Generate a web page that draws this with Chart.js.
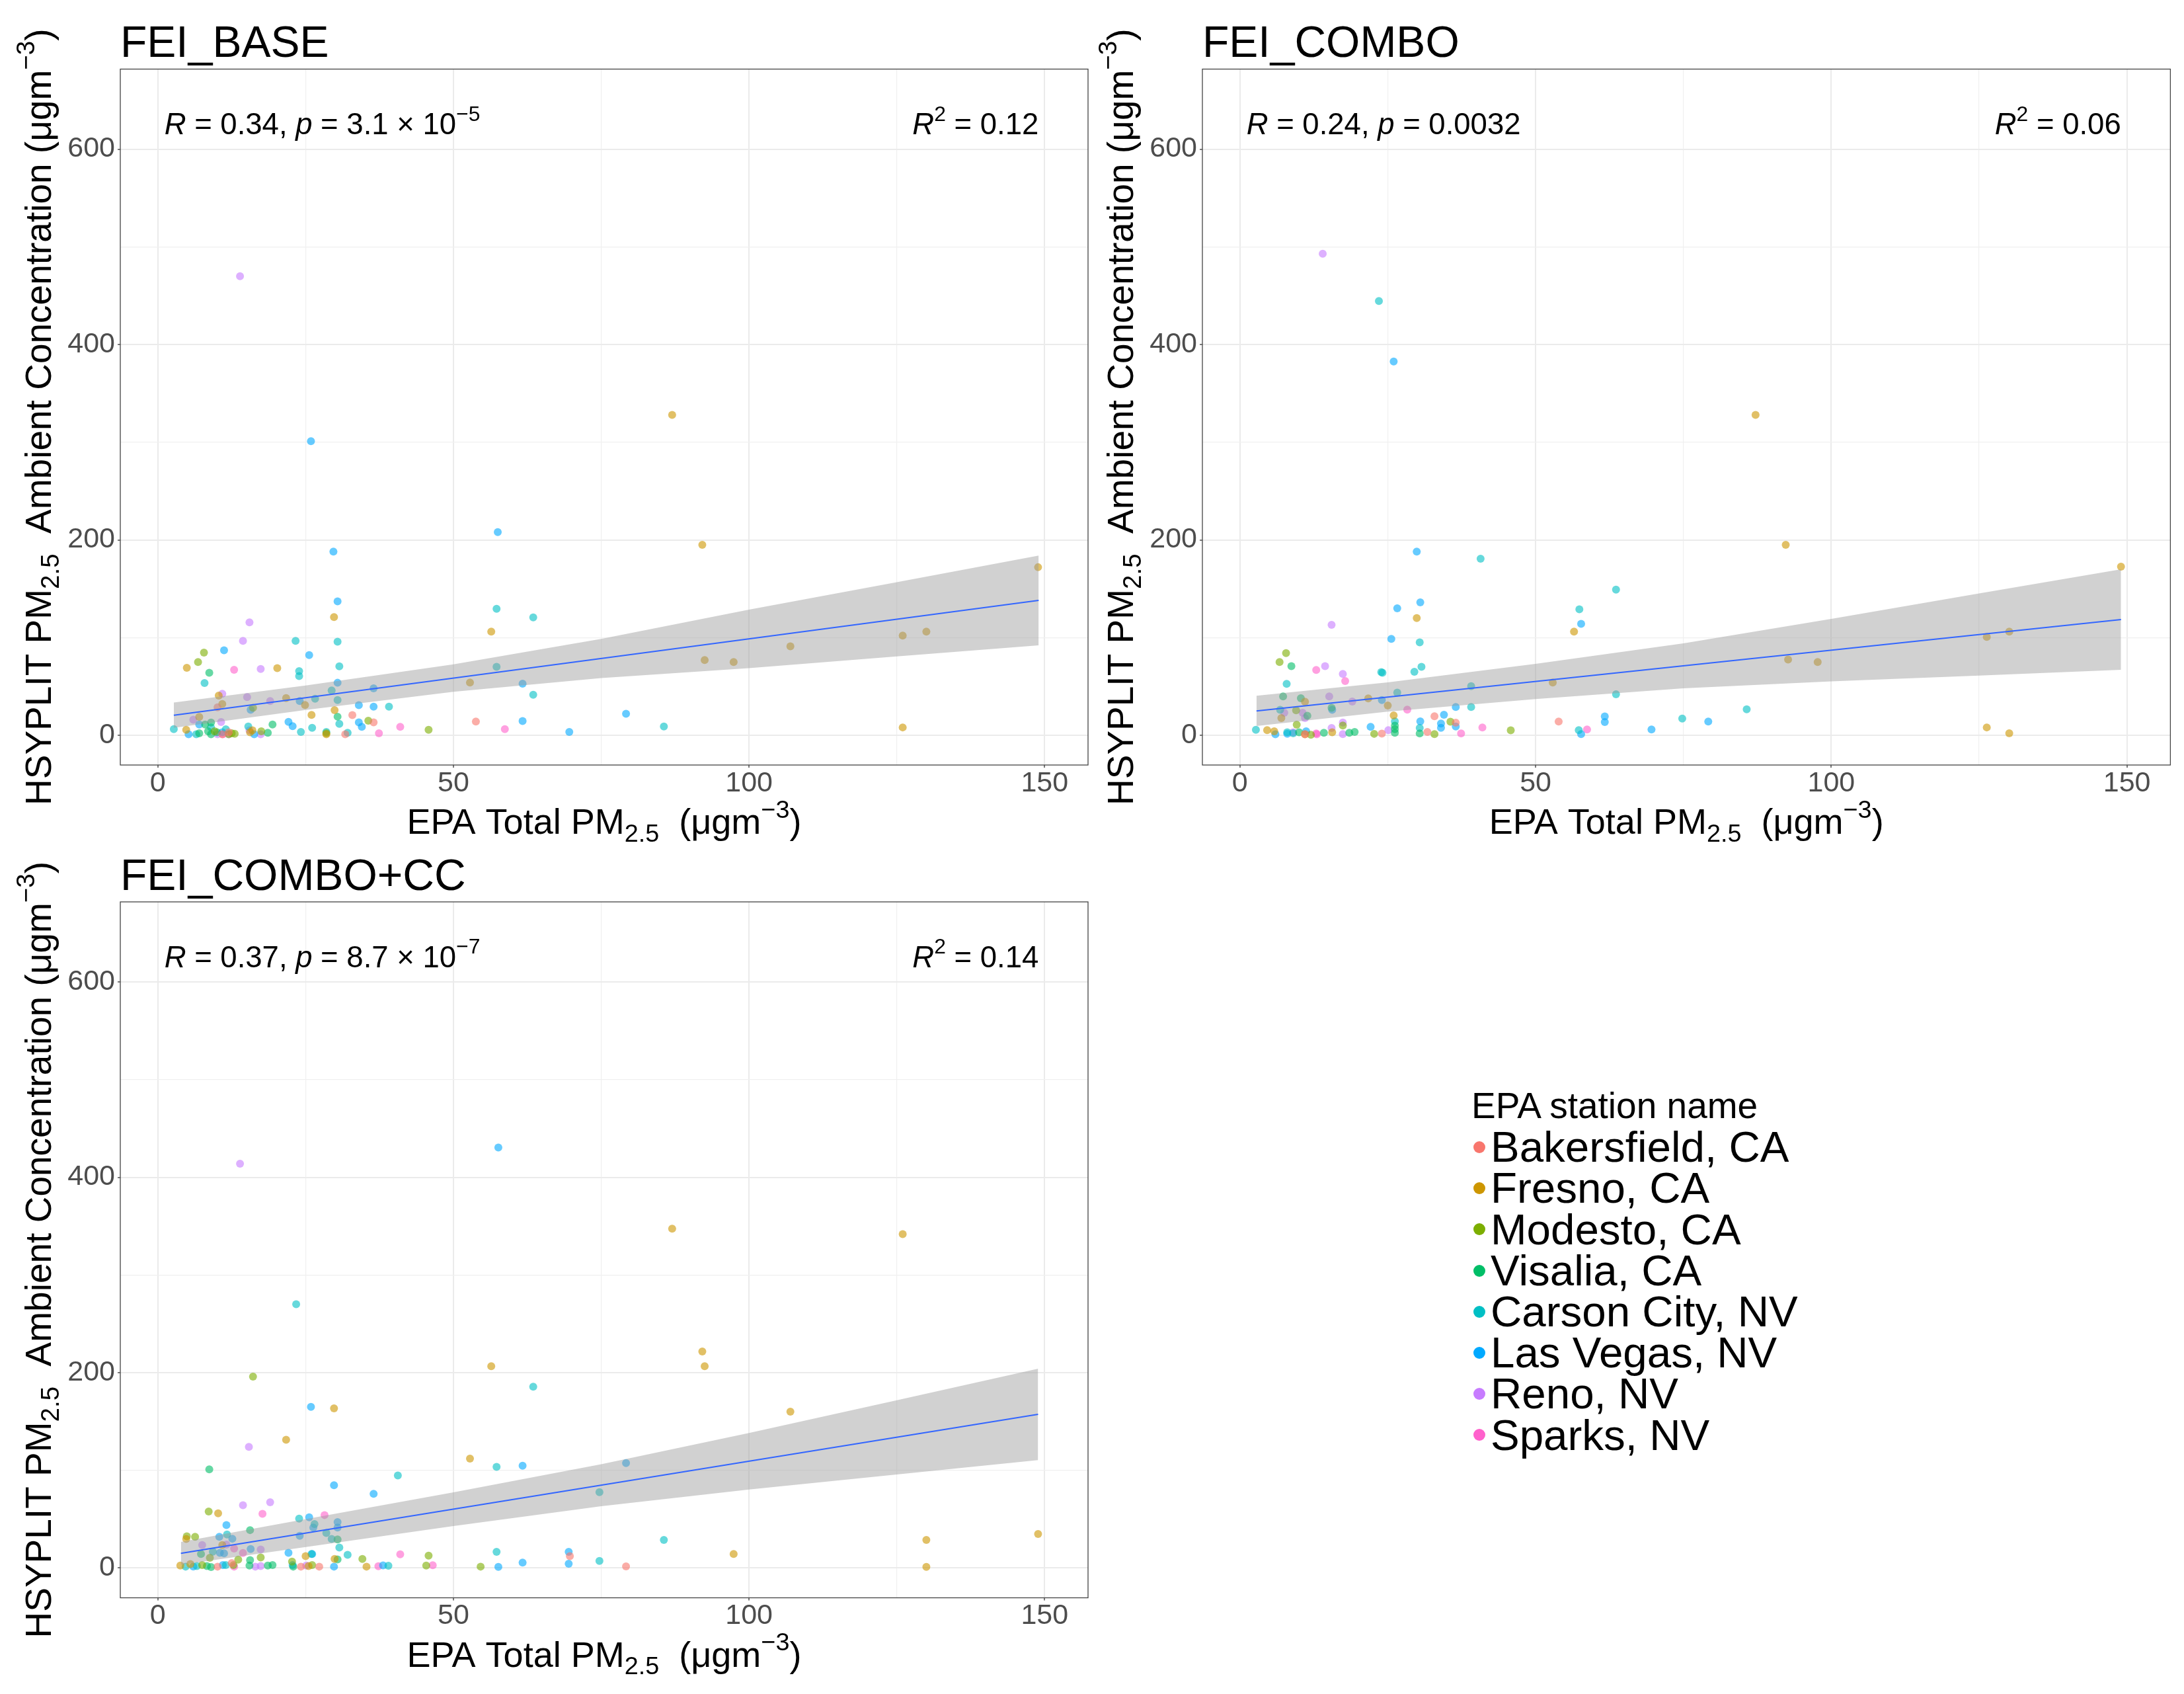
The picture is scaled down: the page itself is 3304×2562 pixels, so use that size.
<!DOCTYPE html>
<html>
<head>
<meta charset="utf-8">
<script src="https://cdn.jsdelivr.net/npm/chart.js@4.4.1/dist/chart.umd.min.js"></script>
<style>
  body { margin: 0; background: #fff; }
  #page { position: relative; width: 3304px; height: 2562px; background: #fff; overflow: hidden;
          font-family: 'Liberation Sans', Arial, Helvetica, sans-serif; }
  canvas { position: absolute; }
  .lg { position: absolute; line-height: 1; white-space: nowrap; color: #000; }
  .dot { position: absolute; width: 18px; height: 18px; border-radius: 50%; }
</style>
</head>
<body>
<div id="page">
  <canvas id="c1" width="1700" height="1290" style="left:0;top:0"></canvas>
  <canvas id="c2" width="1654" height="1290" style="left:1650px;top:0"></canvas>
  <canvas id="c3" width="1700" height="1272" style="left:0;top:1290px"></canvas>
  <div id="legend"></div>
</div>
<script>
const stations = ['Bakersfield, CA', 'Fresno, CA', 'Modesto, CA', 'Visalia, CA',
                  'Carson City, NV', 'Las Vegas, NV', 'Reno, NV', 'Sparks, NV'];
const stationColors = ['#F8766D', '#CD9600', '#7CAE00', '#00BE67', '#00BFC4', '#00A9FF', '#C77CFF', '#FF61CC'];
const xTicks = [0, 50, 100, 150];
const xMinor = [25, 75, 125];
const yTicks = [0, 200, 400, 600];
const yMinor = [100, 300, 500];

// FEI_BASE  [EPA total PM2.5, HSYPLIT PM2.5]
const baseBakersfield = [[53.8,14],[32.9,20.6],[36.5,13.1],[31.7,1],[10.1,28.6],[10.9,1],[12,3]];
const baseFresno = [[87,328],[92.1,195],[148.9,172],[29.8,121],[56.4,106],[130,106],[126,102],[107,91],[92.5,77],
  [97.4,75],[126,8],[52.8,54],[4.9,69],[20.2,68.6],[21.7,38],[24.9,31],[10.3,40.6],[10.9,32],[7,18.7],[4.8,5.6],
  [26,20.8],[29.9,25.7],[28.5,1],[15.6,3],[16,5]];
const baseModesto = [[6.8,75],[7.8,84.6],[45.8,5.6],[16.1,28],[35.6,14.9],[9.6,4],[12.5,2],[17.5,4],[12,1],[13,1.5],[28.5,2]];
const baseVisalia = [[8.7,64],[8,11],[9,13],[18.6,2.5],[19.4,11],[30.4,19],[7,2],[9,1],[8.5,4],[10,3]];
const baseCarson = [[2.7,6.3],[7.9,53.5],[23.3,96.6],[23.9,65.7],[23.9,60.5],[30.4,95.7],[30.7,70.6],[29.4,45.8],
  [30.4,36],[26.6,37.4],[57.3,129.5],[63.5,120.7],[57.3,70],[63.5,41.5],[39.1,29.3],[24.2,3.4],[26.1,7.5],
  [30.7,11.7],[32.1,2.5],[85.6,9],[15.3,9],[11.5,6],[9,8],[6.5,1],[28.5,3.4]];
const baseLasVegas = [[25.9,301],[57.5,208],[29.7,188],[30.4,137],[11.2,87],[25.6,82],[30.4,53.7],[36.5,48],[24,35],
  [15.7,26],[7,11],[5.2,1],[10.9,3],[16.3,1],[22.1,13.7],[22.8,9.2],[34,13.1],[34.5,8.6],[34,30.7],[36.5,29.3],
  [61.7,14.5],[61.7,52.7],[69.6,3.4],[79.2,22]];
const baseReno = [[13.9,470],[15.5,115.6],[14.4,96.6],[17.4,67.8],[19,35],[15.1,39],[10.9,42.4],[6,15.8],[10.7,13.5],
  [10.1,1],[17.4,1],[15.5,5],[12,1]];
const baseSparks = [[12.9,67],[41,8.6],[58.7,6.3],[37.4,2],[11,1]];

// FEI_COMBO
const comboBakersfield = [[53.9,14],[32.9,19.4],[36.5,12.9],[24,1.6],[31.7,3.4],[11,1]];
const comboFresno = [[87.2,328],[92.3,195],[149,172.6],[29.9,120],[56.5,106],[126.3,100.7],[130.1,106],[92.7,77.5],
  [97.7,75],[126.3,8],[130.1,2],[52.9,54],[11,34.3],[21.7,37.7],[25,30.5],[7,17.6],[26,20.3],[4.6,5.2],[5.8,4],
  [15.6,3],[11,1]];
const comboModesto = [[7.8,84],[6.7,75],[9.5,25.5],[9.6,10.8],[35.6,13.8],[45.8,5],[22.7,1.4],[32.9,1.1],[17.4,10],[12,0.5]];
const comboVisalia = [[8.7,70.7],[7.3,39.7],[10.3,37.9],[15.5,28],[11.4,20],[14.2,2.5],[18.5,2.5],[19.4,3.4],
  [26.2,9.7],[26.2,6.3],[26.2,2.5],[30.4,1.8],[10,3]];
const comboCarson = [[23.5,444.6],[40.7,180.7],[63.6,149],[57.4,129],[30.4,95],[23.9,64.6],[24.1,64],[29.5,65],
  [30.7,70],[7.9,52.6],[26.6,43.6],[39.1,50.3],[63.6,42],[39.1,28.9],[6.8,26],[26.2,14.2],[30.4,7.4],[57.3,5.2],
  [74.8,17],[85.7,26.6],[2.7,5.6],[8,3],[9,2]];
const comboLasVegas = [[26,382.6],[29.9,188],[30.5,136],[26.6,130],[57.7,114],[25.6,98.6],[24,36],[15.6,26],
  [36.5,28.9],[34.5,21],[30.5,14.2],[34,12],[34,7.5],[36.5,9],[22.1,8.6],[57.7,1.1],[61.7,19.2],[61.7,13.5],
  [69.6,5.9],[79.2,14],[11.2,4],[6,1],[8,1.5]];
const comboReno = [[14,493],[15.5,113],[14.4,70.7],[17.4,62.8],[15.1,39.7],[19,34.5],[7.5,23],[10.6,23],[11,17.6],
  [15.5,7.4],[17.4,13],[17.4,1.1],[25.1,5.2],[9,3]];
const comboSparks = [[12.9,66.8],[17.8,55.5],[28.3,26.2],[41,7.9],[58.7,5.9],[37.4,1.8],[12.9,1.8],[13,1]];

// FEI_COMBO+CC
const ccBakersfield = [[69.7,12.2],[79.2,1.7],[27.3,1.4],[24.2,1.4],[10.1,1.4],[12.5,5]];
const ccFresno = [[87,347.4],[126,341.8],[92.1,221.6],[92.5,206.6],[56.4,206.6],[29.8,163.4],[107,160],[21.7,131.3],
  [52.8,112],[130,28.8],[148.9,34.9],[97.4,14.4],[130,1.1],[10.2,56],[4.8,29.8],[10.9,23.5],[25,12.2],[29.9,9.3],
  [35.3,1.4],[3.8,2.5],[5.5,4],[25.5,2]];
const ccModesto = [[16.1,196],[8.6,57.8],[4.9,32.5],[6.3,32],[8.8,10.4],[13.6,8.6],[17.4,10.8],[22.7,6.5],[34.6,9.3],
  [45.8,12.6],[45.4,2.5],[54.6,1.4],[7.5,3],[12.8,3],[26.1,3]];
const ccVisalia = [[8.7,101],[15.6,38.8],[7.3,14.4],[15.6,8.1],[30.4,8.8],[30.4,29.3],[15.5,2.5],[18.6,2.5],[19.4,3],
  [22.9,1.4],[8.3,2],[9,1]];
const ccCarson = [[23.4,270],[63.5,185.6],[57.3,103.6],[40.6,94.7],[74.7,77.6],[85.6,28.8],[57.3,16.6],[74.7,7.2],
  [23.9,50.6],[26.5,45],[28.5,35.9],[29.4,29.8],[30.7,21],[32.1,13.5],[11.7,34.3],[9.3,16.7],[39,2.3],[4.7,1.4],
  [6.6,2],[26,14.4],[11.5,3]];
const ccLasVegas = [[57.6,430.5],[25.9,165],[61.7,104.7],[79.2,107.5],[36.5,75.9],[29.8,84.7],[25.6,51.9],[11.6,44],
  [26.3,41.5],[30.4,47],[30.4,41.5],[10.4,32],[12.6,30],[24,33],[15.7,19.4],[10.5,15.5],[11.2,15],[22.1,15.6],
  [26.1,14.4],[69.5,16.6],[69.5,4.4],[61.7,5.5],[57.6,1.1],[29.8,1.4],[38.1,2.7],[22.8,3],[6,1.5],[11,3]];
const ccReno = [[13.9,413.9],[15.4,124],[19,67.3],[14.4,64.3],[7.5,23.5],[11.6,24],[17.4,19],[16.5,1.4],[17.4,2],[25.1,2.5]];
const ccSparks = [[17.7,55.5],[28.2,54.2],[12.9,20],[14.4,15.3],[41,14],[37.3,1.8],[46.5,2.9],[12.9,1.4]];

// linear fit and its 95% band, read at a few x values
const baseBandX = [2.7, 25, 50, 75, 100, 125, 149];
const baseBandLo = [7.5, 25.9, 44.5, 58.6, 68.6, 80.7, 92];
const baseBandHi = [33.5, 50.9, 72.5, 98.6, 128.6, 156.7, 184];
const baseFitLine = [[2.7, 20.5], [149, 138]];
const comboBandX = [2.8, 25, 50, 75, 100, 125, 149];
const comboBandLo = [9.4, 24.1, 37.1, 48.1, 55.1, 61.1, 66.9];
const comboBandHi = [40.4, 54.1, 73.1, 94.1, 119.1, 145.1, 169.9];
const comboFitLine = [[2.8, 24.9], [149, 118.4]];
const ccBandX = [3.9, 25, 50, 75, 100, 125, 148.9];
const ccBandLo = [3.3, 21.4, 42.9, 63.2, 80.3, 95.8, 110.5];
const ccBandHi = [26.7, 50, 77.5, 106.2, 138.3, 171.8, 204.1];
const ccFitLine = [[3.9, 15], [148.9, 157.3]];

const FONT = "'Liberation Sans', Arial, Helvetica, sans-serif";

function rgba(hex, a) {
  const n = parseInt(hex.slice(1), 16);
  return 'rgba(' + (n >> 16) + ',' + ((n >> 8) & 255) + ',' + (n & 255) + ',' + a + ')';
}

// text runs: [text, style]  style '' | 'i' | 'sup' | 'sub'
function runFont(style, size) {
  const s = (style === 'sup' || style === 'sub') ? size * 0.7 : size;
  return (style === 'i' ? 'italic ' : '') + s + 'px ' + FONT;
}
function richWidth(ctx, runs, size) {
  let w = 0;
  runs.forEach(r => { ctx.font = runFont(r[1], size); w += ctx.measureText(r[0]).width; });
  return w;
}
function drawRich(ctx, runs, x, y, size, align) {
  const w = richWidth(ctx, runs, size);
  let cx = align === 'center' ? x - w / 2 : align === 'right' ? x - w : x;
  ctx.textBaseline = 'alphabetic';
  ctx.textAlign = 'left';
  runs.forEach(r => {
    ctx.font = runFont(r[1], size);
    let dy = 0;
    if (r[1] === 'sup') dy = -size * 0.45;
    if (r[1] === 'sub') dy = size * 0.22;
    ctx.fillText(r[0], cx, y + dy);
    cx += ctx.measureText(r[0]).width;
  });
}

const xTitle = [['EPA Total PM', ''], ['2.5', 'sub'], ['  (\u03bcgm', ''], ['\u22123', 'sup'], [')', '']];
const yTitle = [['HSYPLIT PM', ''], ['2.5', 'sub'], ['  Ambient Concentration (\u03bcgm', ''], ['\u22123', 'sup'], [')', '']];

function makePanel(canvasId, title, series, bandX, bandLo, bandHi, fitLine, corText, r2Text, box) {
  const datasets = [];
  datasets.push({
    type: 'line', data: fitLine.map(p => ({ x: p[0], y: p[1] })),
    borderColor: '#3366FF', borderWidth: 2, pointRadius: 0, fill: false
  });
  datasets.push({
    type: 'line', data: bandX.map((x, i) => ({ x: x, y: bandHi[i] })),
    borderColor: 'rgba(0,0,0,0)', borderWidth: 0, pointRadius: 0,
    fill: '+1', backgroundColor: 'rgba(153,153,153,0.45)'
  });
  datasets.push({
    type: 'line', data: bandX.map((x, i) => ({ x: x, y: bandLo[i] })),
    borderColor: 'rgba(0,0,0,0)', borderWidth: 0, pointRadius: 0, fill: false
  });
  series.forEach((pts, k) => {
    datasets.push({
      type: 'scatter', label: stations[k],
      data: pts.map(p => ({ x: p[0], y: p[1] })),
      backgroundColor: rgba(stationColors[k], 0.6), borderWidth: 0, pointRadius: 6
    });
  });

  const isMajorX = v => xTicks.includes(v);
  const isMajorY = v => yTicks.includes(v);

  const decor = {
    id: 'decor',
    afterDraw(chart) {
      const ctx = chart.ctx, a = chart.chartArea;
      const sx = chart.scales.x, sy = chart.scales.y;
      ctx.save();
      ctx.strokeStyle = '#444444';
      ctx.lineWidth = 1.3;
      ctx.strokeRect(a.left, a.top, a.right - a.left, a.bottom - a.top);
      ctx.fillStyle = '#000';
      // panel title
      ctx.font = '66px ' + FONT;
      ctx.textAlign = 'left';
      ctx.textBaseline = 'alphabetic';
      ctx.fillText(title, a.left, a.top - 18.5);
      // axis titles
      drawRich(ctx, xTitle, (a.left + a.right) / 2, a.bottom + 104, 54, 'center');
      ctx.save();
      ctx.translate(a.left - 105, (a.top + a.bottom) / 2);
      ctx.rotate(-Math.PI / 2);
      drawRich(ctx, yTitle, 0, 0, 55, 'center');
      ctx.restore();
      // correlation labels
      const ty = sy.getPixelForValue(615);
      drawRich(ctx, corText, sx.getPixelForValue(1.1), ty, 45.5, 'left');
      drawRich(ctx, r2Text, sx.getPixelForValue(149), ty, 45.5, 'right');
      ctx.restore();
    }
  };

  return new Chart(document.getElementById(canvasId), {
    type: 'scatter',
    data: { datasets: datasets },
    plugins: [decor],
    options: {
      responsive: false,
      devicePixelRatio: 1,
      animation: false,
      layout: { padding: { left: 0, top: box.top, right: box.right, bottom: 0 } },
      plugins: { legend: { display: false }, tooltip: { enabled: false }, title: { display: false } },
      scales: {
        x: {
          type: 'linear', min: -6.35, max: 157.35,
          afterBuildTicks: s => { s.ticks = xTicks.concat(xMinor).sort((p, q) => p - q).map(v => ({ value: v })); },
          afterFit: s => { s.height = box.xh; },
          ticks: {
            autoSkip: false, maxRotation: 0, padding: -2, color: '#4D4D4D',
            font: { size: 43, family: FONT },
            callback: v => isMajorX(v) ? String(v) : ''
          },
          grid: {
            color: c => isMajorX(c.tick.value) ? '#EBEBEB' : '#F0F0F0',
            lineWidth: c => isMajorX(c.tick.value) ? 2 : 1.2,
            tickLength: 4,
            tickColor: c => isMajorX(c.tick.value) ? '#333333' : 'rgba(0,0,0,0)',
            tickWidth: 1.3
          },
          border: { display: false }
        },
        y: {
          type: 'linear', min: -30.5, max: 682,
          afterBuildTicks: s => { s.ticks = yTicks.concat(yMinor).sort((p, q) => p - q).map(v => ({ value: v })); },
          afterFit: s => { s.width = box.yw; },
          ticks: {
            autoSkip: false, padding: 4, color: '#4D4D4D',
            font: { size: 43, family: FONT },
            callback: v => isMajorY(v) ? String(v) : ''
          },
          grid: {
            color: c => isMajorY(c.tick.value) ? '#EBEBEB' : '#F0F0F0',
            lineWidth: c => isMajorY(c.tick.value) ? 2 : 1.2,
            tickLength: 4,
            tickColor: c => isMajorY(c.tick.value) ? '#333333' : 'rgba(0,0,0,0)',
            tickWidth: 1.3
          },
          border: { display: false }
        }
      }
    }
  });
}

makePanel('c1', 'FEI_BASE',
  [baseBakersfield, baseFresno, baseModesto, baseVisalia, baseCarson, baseLasVegas, baseReno, baseSparks],
  baseBandX, baseBandLo, baseBandHi, baseFitLine,
  [['R', 'i'], [' = 0.34, ', ''], ['p', 'i'], [' = 3.1 \u00d7 10', ''], ['\u22125', 'sup']],
  [['R', 'i'], ['2', 'sup'], [' = 0.12', '']],
  { top: 104.5, right: 54, yw: 182, xh: 133 });

makePanel('c2', 'FEI_COMBO',
  [comboBakersfield, comboFresno, comboModesto, comboVisalia, comboCarson, comboLasVegas, comboReno, comboSparks],
  comboBandX, comboBandLo, comboBandHi, comboFitLine,
  [['R', 'i'], [' = 0.24, ', ''], ['p', 'i'], [' = 0.0032', '']],
  [['R', 'i'], ['2', 'sup'], [' = 0.06', '']],
  { top: 104.5, right: 20.6, yw: 169, xh: 133 });

makePanel('c3', 'FEI_COMBO+CC',
  [ccBakersfield, ccFresno, ccModesto, ccVisalia, ccCarson, ccLasVegas, ccReno, ccSparks],
  ccBandX, ccBandLo, ccBandHi, ccFitLine,
  [['R', 'i'], [' = 0.37, ', ''], ['p', 'i'], [' = 8.7 \u00d7 10', ''], ['\u22127', 'sup']],
  [['R', 'i'], ['2', 'sup'], [' = 0.14', '']],
  { top: 74, right: 54, yw: 182, xh: 145.5 });

// legend
const legend = document.getElementById('legend');
let html = '<div class="lg" style="left:2226px;top:' + (1692 - 0.8465 * 55) + 'px;font-size:55px">EPA station name</div>';
stations.forEach((name, k) => {
  const base = 1757.6 + k * 62.2;
  html += '<div class="dot" style="left:' + (2237.5 - 9) + 'px;top:' + (base - 22.6 - 9) + 'px;background:' + stationColors[k] + '"></div>';
  html += '<div class="lg" style="left:2255px;top:' + (base - 0.8465 * 65.5) + 'px;font-size:65.5px">' + name + '</div>';
});
legend.innerHTML = html;
</script>
</body>
</html>
